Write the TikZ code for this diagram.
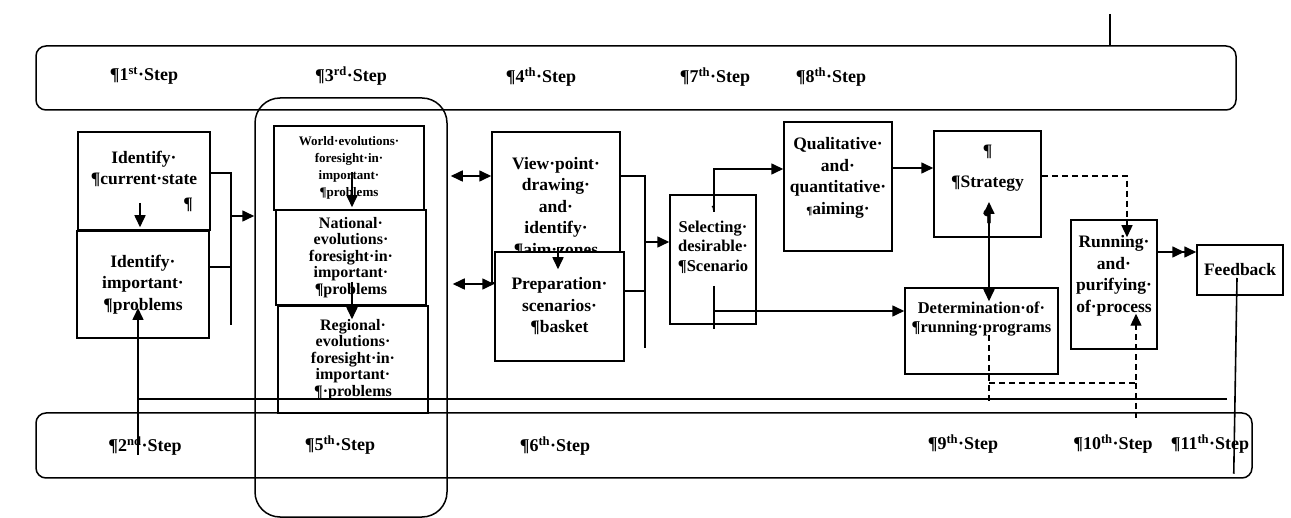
\documentclass[tikz,border=0pt]{standalone}
\usepackage{fontspec}
\setmainfont{Liberation Serif}
\usepackage{tikz}
\usetikzlibrary{arrows.meta,calc}

\begin{document}
\begin{tikzpicture}[
    x=1pt,y=-1pt,
    bigtxt/.style={font=\bfseries\fontsize{17.5}{21.5}\selectfont},
    midtxt/.style={font=\bfseries\fontsize{16.5}{19.5}\selectfont},
    tighttxt/.style={font=\bfseries\fontsize{16}{16.5}\selectfont},
    smalltxt/.style={font=\bfseries\fontsize{13}{17}\selectfont},
    box/.style={draw,line width=1.5pt,fill=white,align=center,inner sep=0pt,bigtxt},
    band/.style={draw,line width=1.5pt,rounded corners=10pt,inner sep=0pt},
    steplbl/.style={font=\bfseries\fontsize{18}{21}\selectfont,inner sep=0pt},
    line/.style={line width=1.6pt},
    arr/.style={line width=1.6pt,-{Triangle[length=12pt,width=11pt]}},
    dblarr/.style={line width=1.6pt,{Triangle[length=12pt,width=11pt]}-{Triangle[length=12pt,width=11pt]}},
    dashline/.style={line width=1.3pt,dash pattern=on 6pt off 4pt},
    dasharr/.style={dashline,-{Triangle[length=12pt,width=11pt]}}
]
    \useasboundingbox (0,0) rectangle (1291,518);

    % step bands
    \node[band,minimum width=1200pt,minimum height=64pt] (topband) at (636,78) {};
    \node[band,minimum width=1216pt,minimum height=65pt] (botband) at (644,445.5) {};
    \node[band,rounded corners=25pt,minimum width=192pt,minimum height=419pt] (stepcol) at (351,307.5) {};

    \node[steplbl] (st1) at (144,76) {¶1\textsuperscript{st}·Step};
    \node[steplbl] (st3) at (351,76) {¶3\textsuperscript{rd}·Step};
    \node[steplbl] (st4) at (541,77) {¶4\textsuperscript{th}·Step};
    \node[steplbl] (st7) at (715,77) {¶7\textsuperscript{th}·Step};
    \node[steplbl] (st8) at (831,77) {¶8\textsuperscript{th}·Step};
    \node[steplbl] (st2) at (145,446) {¶2\textsuperscript{nd}·Step};
    \node[steplbl] (st5) at (340,445) {¶5\textsuperscript{th}·Step};
    \node[steplbl] (st6) at (555,446) {¶6\textsuperscript{th}·Step};
    \node[steplbl] (st9) at (963,444) {¶9\textsuperscript{th}·Step};
    \node[steplbl] (st10) at (1113,444) {¶10\textsuperscript{th}·Step};
    \node[steplbl] (st11) at (1210,444) {¶11\textsuperscript{th}·Step};

    % boxes
    \node[box,minimum width=132pt,minimum height=98pt] (idcur) at (144,181) {Identify·\\¶current·state\\[3pt]\hspace*{88pt}¶};
    \node[box,minimum width=132pt,minimum height=107pt] (idprob) at (143,284.5) {Identify·\\important·\\¶problems};
    \node[box,smalltxt,minimum width=150pt,minimum height=84pt] (world) at (349,168) {World·evolutions·\\foresight·in·\\important·\\¶problems};
    \node[box,tighttxt,minimum width=150pt,minimum height=95pt] (natl) at (351,257.5) {National·\\evolutions·\\foresight·in·\\important·\\¶problems};
    \node[box,tighttxt,minimum width=150pt,minimum height=107pt] (regl) at (353,359.5) {Regional·\\evolutions·\\foresight·in·\\important·\\¶·problems};
    \node[box,minimum width=128pt,minimum height=151pt] (view) at (556,207.5) {View·point·\\drawing·\\and·\\identify·\\¶aim·zones};
    \node[box,minimum width=129pt,minimum height=109pt] (prep) at (559.5,306.5) {Preparation·\\scenarios·\\¶basket};
    \node[box,midtxt,minimum width=86pt,minimum height=129pt] (sel) at (713,259.5) {{\fontsize{5}{5}\selectfont¶}\\[3pt]Selecting·\\desirable·\\¶Scenario\\[22pt]\mbox{}};
    \node[box,minimum width=108pt,minimum height=129pt] (qual) at (838,186.5) {Qualitative·\\and·\\quantitative·\\{\fontsize{11}{11}\selectfont¶}aiming·\\\mbox{}};
    \node[box,minimum width=107pt,minimum height=106pt] (strat) at (987.5,184) {¶\\[10pt]¶Strategy\\[12pt]¶};
    \node[box,midtxt,minimum width=153pt,minimum height=86pt] (det) at (981.5,331) {Determination·of·\\¶running·programs\\[8pt]\mbox{}};
    \node[box,minimum width=86pt,minimum height=129pt] (run) at (1114,284.5) {Running·\\and·\\purifying·\\of·process\\\mbox{}};
    \node[box,minimum width=86pt,minimum height=50pt] (feed) at (1240,270) {Feedback};

    % connectors
    \draw[arr] ([xshift=-4pt,yshift=-22pt]idcur.center) -- ([xshift=-3pt,yshift=3pt]idprob.north);
    \coordinate (brkL) at (231,173);
    \draw[line] ([yshift=8pt]idcur.east) -- (brkL) -- ++(0,152);
    \draw[line] ([yshift=17.5pt]idprob.east) -- ([yshift=17.5pt]idprob.east -| brkL);
    \draw[arr] ([yshift=-43pt]brkL) -- ([yshift=-43pt]brkL -| stepcol.west);

    \draw[arr] ([xshift=3pt,yshift=-4pt]world.center) -- ([xshift=1pt,yshift=2pt]natl.north);
    \draw[arr] ([xshift=1pt,yshift=-24.5pt]natl.center) -- ([xshift=-1pt,yshift=-14pt]regl.north);

    \draw[dblarr] ([xshift=3pt,yshift=31.5pt]view.west -| stepcol.east) -- ([yshift=31.5pt]view.west);
    \draw[dblarr] ([xshift=5pt,yshift=22.5pt]prep.west -| stepcol.east) -- ([yshift=22.5pt]prep.west);
    \draw[arr] ([xshift=2pt,yshift=-39.5pt]view.center) -- ([xshift=-1.5pt,yshift=-18pt]prep.north);

    \coordinate (brkR) at (645,176);
    \draw[line] ([yshift=31.5pt]view.east) -- (brkR) -- ++(0,172);
    \draw[line] ([yshift=15.5pt]prep.east) -- ([yshift=15.5pt]prep.east -| brkR);
    \draw[arr] ([yshift=-66pt]brkR) -- ([yshift=-66pt]brkR -| sel.west);

    \draw[arr] ([xshift=1pt,yshift=47.5pt]sel.center) |- ([yshift=17.5pt]qual.west);
    \draw[arr] ([yshift=18.5pt]qual.east) -- ([yshift=18.5pt]qual.east -| strat.west);
    \draw[dblarr] ([xshift=1.5pt,yshift=-18pt]strat.center) -- ([xshift=7.5pt,yshift=-14pt]det.north);
    \draw[line] ([xshift=1pt,yshift=-26.5pt]sel.center) -- ([xshift=1pt,yshift=-69.5pt]sel.center);
    \draw[arr] ([yshift=-51.5pt]sel.center) -- ([yshift=-51.5pt]sel.center -| det.west);

    \draw[dasharr] ([yshift=8pt]strat.east) -| ([xshift=13pt,yshift=-18pt]run.north);
    \coordinate (detdrop) at ([xshift=7.5pt,yshift=-4pt]det.center);
    \coordinate (runin) at ([xshift=22pt,yshift=36pt]run.south);
    \draw[dashline] (detdrop) -- ++(0,67);
    \draw[dasharr] ([yshift=-48pt]detdrop) -| (runin);
    \draw[dashline] ([yshift=-48pt]runin |- detdrop) -- ++(0,35);

    \draw[line,-{Triangle[length=12pt,width=11pt] Triangle[length=12pt,width=11pt]}] ([yshift=32.5pt]run.east) -- ([yshift=32.5pt]run.east -| feed.west);
    \draw[line] ([xshift=-3pt,yshift=-8pt]feed.center) -- ([xshift=-19pt,yshift=5pt]botband.south east);

    % return path to step 2
    \coordinate (retR) at (1227,399);
    \coordinate (retL) at (138,399);
    \draw[line] (retR) -- (retL);
    \draw[arr] ([yshift=-56pt]retL) -- ([xshift=-5pt,yshift=-23.5pt]idprob.center);

    \coordinate (stub) at (1110,14);
    \draw[line] (stub) -- (stub |- topband.north);
\end{tikzpicture}
\end{document}
